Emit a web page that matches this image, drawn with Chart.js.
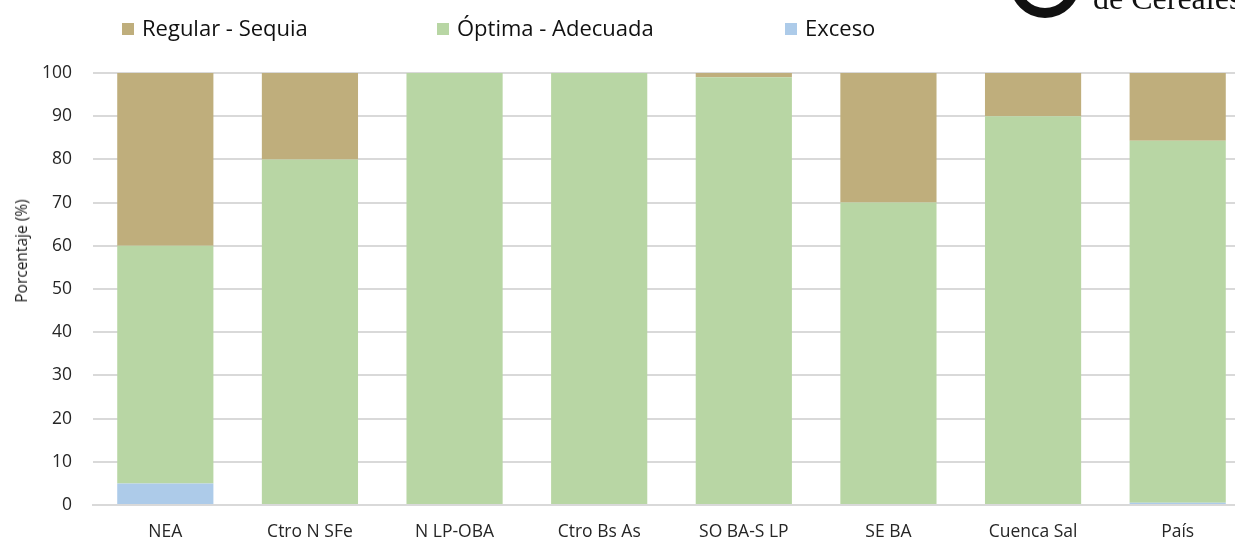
<!DOCTYPE html>
<html>
<head>
<meta charset="utf-8">
<script src="https://cdn.jsdelivr.net/npm/chart.js@4/dist/chart.umd.min.js"></script>
<style>
  body { margin: 0; background: #fff; overflow: hidden; }
  #wrap { position: relative; width: 1235px; height: 541px; overflow: hidden; }
  #chartBox { position: absolute; left: 0; top: 0; width: 1250px; height: 541px; }
  .legend { position: absolute; top: 12px; font-family: "Open Sans", sans-serif; font-size: 22px; line-height: 30px; color: #111; white-space: nowrap; }
  .legend span.sw { display: inline-block; width: 12px; height: 12px; margin-right: 8px; vertical-align: 1px; }
  #yTitle { position: absolute; left: 21px; top: 251px; transform: translate(-50%, -50%) rotate(-90deg); font-family: "Open Sans", sans-serif; font-size: 15.5px; color: #1a1a1a; white-space: nowrap; }
  #logoText { position: absolute; left: 1093px; top: -18px; line-height: 1; font-family: "Liberation Serif", "DejaVu Serif", serif; font-size: 32px; color: #111; white-space: nowrap; }
  #logoSeal { position: absolute; left: 1010px; top: -52px; width: 50px; height: 50px; border-radius: 50%; border: 10px solid #111; background: #fff; }
</style>
</head>
<body>
<div id="wrap">
  <div id="chartBox"><canvas id="barVis"></canvas></div>
  <div class="legend" style="left:122px"><span class="sw" style="background:#BFAE7C"></span>Regular - Sequia</div>
  <div class="legend" style="left:437px"><span class="sw" style="background:#B8D6A4"></span>Óptima - Adecuada</div>
  <div class="legend" style="left:785px"><span class="sw" style="background:#ADCBE9"></span>Exceso</div>
  <div id="yTitle">Porcentaje (%)</div>
  <div id="logoSeal"></div>
  <div id="logoText">de Cereales</div>
</div>
<script>
// regions and percentage of each soil moisture class
const regions = ["NEA", "Ctro N SFe", "N LP-OBA", "Ctro Bs As", "SO BA-S LP", "SE BA", "Cuenca Sal", "País"]
const exceso = [5, 0, 0, 0, 0, 0, 0, 0.5]
const optima = [55, 80, 100, 100, 99, 70, 90, 83.8]
const regular = [40, 20, 0, 0, 1, 30, 10, 15.7]
const yTicks = [0, 10, 20, 30, 40, 50, 60, 70, 80, 90, 100]

const fontFam = "'Open Sans', sans-serif"

new Chart(document.getElementById("barVis"), {
  type: "bar",
  data: {
    labels: regions,
    datasets: [
      { label: "Exceso", data: exceso, backgroundColor: "#ADCBE9" },
      { label: "Óptima - Adecuada", data: optima, backgroundColor: "#B8D6A4" },
      { label: "Regular - Sequia", data: regular, backgroundColor: "#BFAE7C" }
    ]
  },
  options: {
    responsive: true,
    maintainAspectRatio: false,
    animation: false,
    layout: { padding: { top: 73, right: 0, left: 0, bottom: 0 } },
    datasets: { bar: { barPercentage: 0.665, categoryPercentage: 1, borderWidth: 0 } },
    plugins: { legend: { display: false }, tooltip: { enabled: false } },
    scales: {
      x: {
        stacked: true,
        grid: { display: false, drawTicks: false },
        border: { display: true, color: "#D9D9D9", width: 2 },
        ticks: { color: "#262626", font: { family: fontFam, size: 17.5 }, padding: 17, maxRotation: 0 },
        afterFit: s => { s.height = 36 }
      },
      y: {
        stacked: true,
        min: 0,
        max: 100,
        afterBuildTicks: s => { s.ticks = yTicks.map(v => ({ value: v })) },
        grid: { color: "#D9D9D9", lineWidth: 2, drawTicks: false },
        border: { display: false },
        ticks: { color: "#262626", font: { family: fontFam, size: 17.5 }, padding: 21 },
        afterFit: s => { s.width = 93 }
      }
    }
  }
})
</script>
</body>
</html>
